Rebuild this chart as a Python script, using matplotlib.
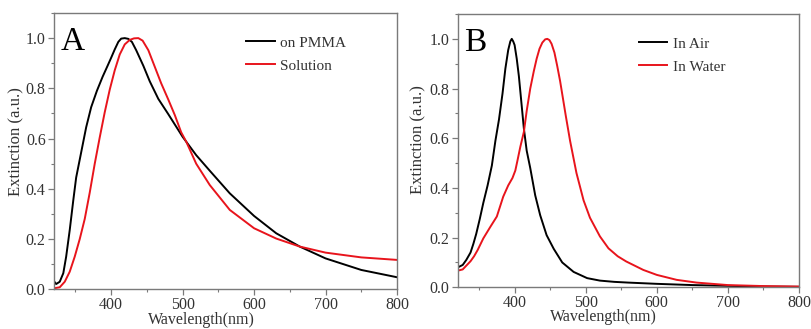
import matplotlib
matplotlib.use("Agg")
import matplotlib.pyplot as plt
from matplotlib.ticker import MultipleLocator

# ---------------- data ----------------
# Panel A
a_pmma_x = [320, 323, 328, 333, 337, 342, 347, 351, 358, 365, 372, 380, 388, 395, 400,
            405, 410, 414, 419, 424, 429, 435, 445, 454, 466, 480, 490, 500, 519, 538,
            566, 600, 631, 664, 700, 750, 800]
a_pmma_y = [0.032, 0.021, 0.03, 0.064, 0.13, 0.236, 0.355, 0.445, 0.545, 0.645, 0.725,
            0.79, 0.846, 0.89, 0.922, 0.955, 0.985, 0.998, 1.0, 0.997, 0.985, 0.952,
            0.89, 0.828, 0.758, 0.697, 0.652, 0.607, 0.534, 0.472, 0.382, 0.292, 0.223,
            0.17, 0.123, 0.077, 0.048]
a_sol_x = [320, 328, 335, 342, 349, 356, 363, 370, 377, 384, 391, 398, 405, 412, 419,
           426, 432, 438, 444, 452, 461, 470, 480, 489, 498, 505, 519, 538, 566, 600,
           631, 664, 700, 750, 800]
a_sol_y = [0.004, 0.008, 0.03, 0.07, 0.13, 0.2, 0.28, 0.385, 0.5, 0.605, 0.705, 0.795,
           0.872, 0.935, 0.975, 0.993, 0.999, 1.0, 0.99, 0.952, 0.886, 0.82, 0.755,
           0.694, 0.625, 0.588, 0.50, 0.415, 0.316, 0.243, 0.202, 0.17, 0.146, 0.127,
           0.117]

# Panel B
b_air_x = [320, 327, 332, 338, 342, 346, 351, 356, 362, 368, 373, 378, 383, 387, 391,
           394, 396, 398, 400, 403, 406, 409, 413, 417, 422, 429, 436, 445, 455, 467,
           483, 502, 520, 540, 560, 600, 650, 700, 750, 800]
b_air_y = [0.08, 0.09, 0.11, 0.14, 0.175, 0.215, 0.275, 0.34, 0.41, 0.49, 0.59, 0.675,
           0.78, 0.88, 0.955, 0.99, 1.0, 0.99, 0.975, 0.92, 0.85, 0.76, 0.64, 0.55,
           0.48, 0.37, 0.29, 0.21, 0.155, 0.1, 0.062, 0.037, 0.027, 0.022, 0.019, 0.014,
           0.009, 0.006, 0.003, 0.002]
b_water_x = [320, 327, 333, 338, 343, 348, 356, 366, 375, 384, 391, 397, 401, 404, 408,
             413, 417, 422, 427, 431, 435, 439, 443, 446, 449, 452, 456, 460, 464, 468,
             472, 478, 487, 497, 506, 520, 532, 545, 557, 581, 600, 628, 656, 700, 750,
             800]
b_water_y = [0.067, 0.072, 0.09, 0.105, 0.125, 0.15, 0.197, 0.244, 0.285, 0.365, 0.41,
             0.44, 0.47, 0.51, 0.565, 0.625, 0.71, 0.8, 0.87, 0.92, 0.96, 0.985, 0.998,
             1.0, 0.995, 0.98, 0.945, 0.89, 0.83, 0.76, 0.69, 0.59, 0.46, 0.35, 0.28,
             0.205, 0.157, 0.125, 0.104, 0.07, 0.05, 0.03, 0.019, 0.009, 0.005, 0.003]

panel_letters = ["A", "B"]
labels_a = ["on PMMA", "Solution"]
labels_b = ["In Air", "In Water"]
xlabel = "Wavelength(nm)"
ylabel = "Extinction (a.u.)"

# ---------------- style ----------------
plt.rcParams["font.family"] = ["Liberation Serif", "DejaVu Serif"]
TXT = "#333333"
SPINE = "#7a7a7a"
RED = "#e8141c"

fig = plt.figure(figsize=(8.11, 3.29), dpi=100)
axA = fig.add_axes([0.0666, 0.1207, 0.4229, 0.8398])
axB = fig.add_axes([0.5644, 0.1267, 0.4208, 0.8307])


def style(ax, letter, series, labels, ylab_xy, xlab_xy, leg_x):
    (x1, y1), (x2, y2) = series
    l1, = ax.plot(x1, y1, color="black", lw=1.4, solid_joinstyle="round")
    l2, = ax.plot(x2, y2, color=RED, lw=1.4, solid_joinstyle="round")
    ax.set_xlim(320, 800)
    ax.set_ylim(0, 1.1)
    ax.set_xticks([400, 500, 600, 700, 800])
    ax.set_yticks([0.0, 0.2, 0.4, 0.6, 0.8, 1.0])
    ax.xaxis.set_minor_locator(MultipleLocator(50))
    ax.yaxis.set_minor_locator(MultipleLocator(0.1))
    ax.yaxis.set_major_formatter(plt.FuncFormatter(lambda v, p: f"{v:.1f}"))
    for s in ax.spines.values():
        s.set_color(SPINE)
        s.set_linewidth(1.0)
    ax.tick_params(which="major", direction="out", length=4, width=0.9,
                   color=SPINE, labelsize=11.5, labelcolor=TXT, pad=2.0)
    ax.tick_params(axis="x", which="major", pad=1.2)
    ax.tick_params(which="minor", direction="out", length=2.2, width=0.8,
                   color=SPINE)
    ax.tick_params(top=False, right=False, which="both")
    ax.set_xlabel(xlabel, fontsize=11.5, color=TXT)
    ax.set_ylabel(ylabel, fontsize=12, color=TXT)
    ax.xaxis.set_label_coords(*xlab_xy)
    ax.yaxis.set_label_coords(*ylab_xy)
    ax.text(0.018, 0.866, letter, transform=ax.transAxes, fontsize=24,
            color="black", ha="left", va="baseline")
    ax.legend([l1, l2], labels, loc="upper left", bbox_to_anchor=(leg_x, 0.955),
              frameon=False, fontsize=11, handlelength=1.85, handletextpad=0.35,
              labelspacing=0.6, borderpad=0.2, labelcolor=TXT)


style(axA, panel_letters[0], [(a_pmma_x, a_pmma_y), (a_sol_x, a_sol_y)], labels_a,
      (-0.085, 0.533), (0.43, -0.081), 0.53)
style(axB, panel_letters[1], [(b_air_x, b_air_y), (b_water_x, b_water_y)], labels_b,
      (-0.093, 0.541), (0.427, -0.081), 0.5)

fig.savefig("out.png", dpi=100)
